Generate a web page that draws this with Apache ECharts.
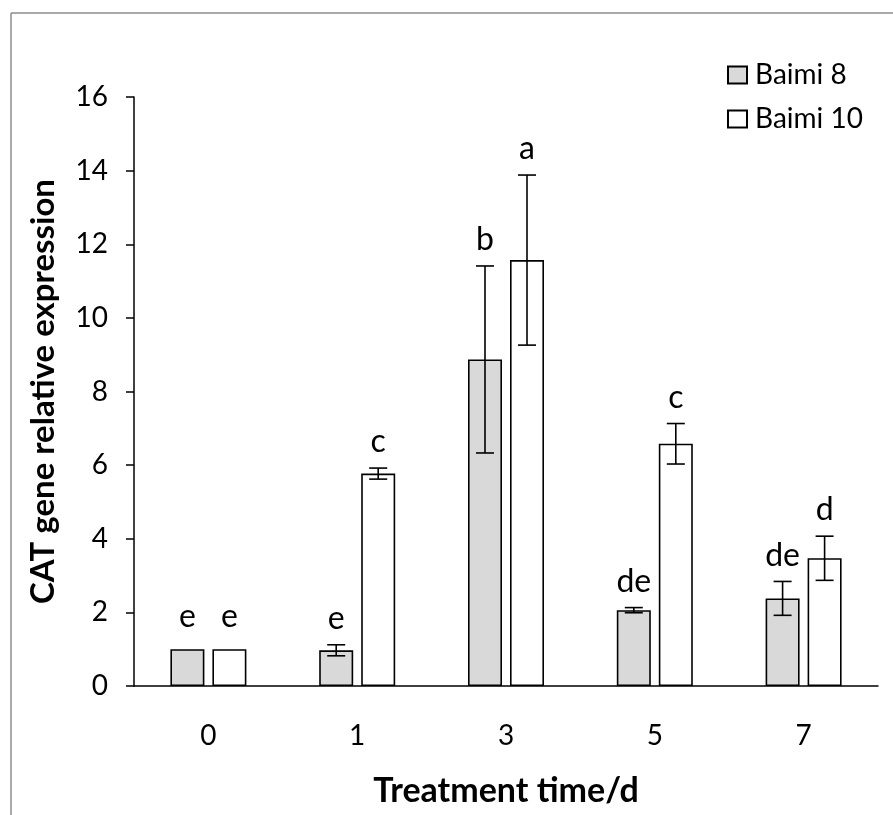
<!DOCTYPE html>
<html lang="en">
<head>
  <meta charset="UTF-8">
  <title>CAT gene relative expression</title>
  <style>
    html, body { margin: 0; padding: 0; background: #fff; }
    #main { width: 893px; height: 815px; }
  </style>
</head>
<body>
  <div id="main"></div>

  <script src="https://cdn.jsdelivr.net/npm/echarts@6/dist/echarts.min.js"></script>

  <script>
    // data
    var days = ['0', '1', '3', '5', '7']
    var baimi8 = [1.0, 0.97, 8.87, 2.06, 2.38]
    var baimi8Err = [0, 0.15, 2.54, 0.07, 0.46]
    var baimi8Letters = ['e', 'e', 'b', 'de', 'de']
    var baimi10 = [1.0, 5.77, 11.57, 6.58, 3.47]
    var baimi10Err = [0, 0.15, 2.31, 0.55, 0.6]
    var baimi10Letters = ['e', 'c', 'a', 'c', 'd']
    var yTicks = [0, 2, 4, 6, 8, 10, 12, 14, 16]

    var font = 'Lato, "Open Sans", sans-serif'
    var barW = 34
    var gap = 8

    function errData(vals, errs, letters) {
      return vals.map(function (v, i) { return [i, v, errs[i], letters[i]] })
    }

    // error bars + significance letters, shifted to sit on the matching bar
    function makeErrRender(letters, shift) {
      return function (params, api) {
        var i = api.value(0)
        var v = api.value(1)
        var e = api.value(2)
        var c = api.coord([i, v])
        var x = c[0] + shift
        var top = api.coord([i, v + e])[1]
        var bot = api.coord([i, v - e])[1]
        var cap = 9
        var kids = []
        if (e > 0) {
          var st = { stroke: '#000', lineWidth: 1.6 }
          kids.push({ type: 'line', shape: { x1: x, y1: top, x2: x, y2: bot }, style: st })
          kids.push({ type: 'line', shape: { x1: x - cap, y1: top, x2: x + cap, y2: top }, style: st })
          kids.push({ type: 'line', shape: { x1: x - cap, y1: bot, x2: x + cap, y2: bot }, style: st })
        }
        kids.push({
          type: 'text',
          style: {
            x: x, y: top - (e > 0 ? 10 : 17),
            text: letters[params.dataIndex],
            fill: '#000',
            font: '32px ' + font,
            textAlign: 'center',
            textVerticalAlign: 'bottom'
          }
        })
        return { type: 'group', children: kids }
      }
    }

    var myChart = echarts.init(document.getElementById('main'))

    var options = {
      animation: false,
      backgroundColor: '#fff',
      grid: { left: 134, right: 15, top: 97, bottom: 129 },
      legend: {
        orient: 'vertical',
        left: 722,
        top: 56,
        icon: 'rect',
        itemWidth: 19,
        itemHeight: 17,
        itemGap: 16,
        data: ['Baimi 8', 'Baimi 10'],
        textStyle: { fontFamily: font, fontSize: 28, color: '#000', padding: [0, 0, 0, 3] }
      },
      xAxis: {
        type: 'category',
        data: days,
        name: 'Treatment time/d',
        nameLocation: 'middle',
        nameGap: 88,
        nameTextStyle: { fontFamily: font, fontSize: 34, fontWeight: 'bold', color: '#000' },
        axisLine: { lineStyle: { color: '#000', width: 1.5 } },
        axisTick: { length: 8, lineStyle: { color: '#000', width: 1.5 } },
        axisLabel: { margin: 36, fontFamily: font, fontSize: 28, color: '#000' }
      },
      yAxis: {
        type: 'value',
        min: 0,
        max: 16,
        interval: 2,
        name: 'CAT gene relative expression',
        nameLocation: 'middle',
        nameGap: 74,
        nameTextStyle: { fontFamily: font, fontSize: 33, fontWeight: 'bold', color: '#000' },
        splitLine: { show: false },
        axisLine: { show: true, lineStyle: { color: '#000', width: 1.5 } },
        axisTick: { show: true, length: 8, lineStyle: { color: '#000', width: 1.5 } },
        axisLabel: {
          margin: 26, fontFamily: font, fontSize: 28, color: '#000',
          formatter: function (v) { return yTicks.indexOf(v) >= 0 ? String(v) : '' }
        }
      },
      graphic: [
        // light grey frame lines along the top and left of the picture
        { type: 'line', shape: { x1: 11, y1: 13, x2: 893, y2: 13 }, style: { stroke: '#8c8c8c', lineWidth: 1.5 } },
        { type: 'line', shape: { x1: 11, y1: 13, x2: 11, y2: 815 }, style: { stroke: '#8c8c8c', lineWidth: 1.5 } }
      ],
      series: [
        {
          name: 'Baimi 8',
          type: 'bar',
          data: baimi8,
          barWidth: barW,
          barGap: (gap / barW * 100) + '%',
          itemStyle: { color: '#d9d9d9', borderColor: '#000', borderWidth: 1.6 }
        },
        {
          name: 'Baimi 10',
          type: 'bar',
          data: baimi10,
          barWidth: barW,
          itemStyle: { color: '#fff', borderColor: '#000', borderWidth: 1.6 }
        },
        {
          type: 'custom',
          renderItem: makeErrRender(baimi8Letters, -(barW + gap) / 2),
          data: errData(baimi8, baimi8Err, baimi8Letters),
          z: 5
        },
        {
          type: 'custom',
          renderItem: makeErrRender(baimi10Letters, (barW + gap) / 2),
          data: errData(baimi10, baimi10Err, baimi10Letters),
          z: 5
        }
      ]
    }
    myChart.setOption(options)
  </script>
</body>
</html>
